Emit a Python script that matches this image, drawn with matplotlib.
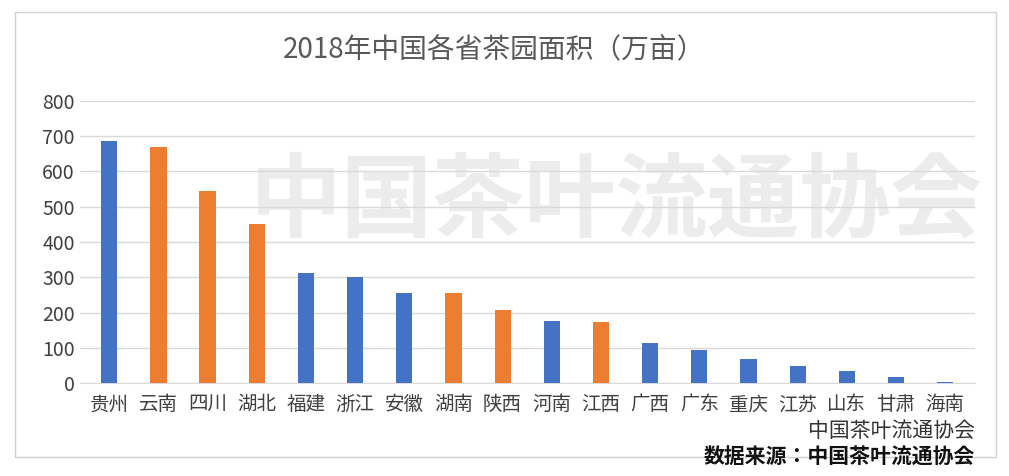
import matplotlib
matplotlib.use("Agg")
import matplotlib.pyplot as plt
from matplotlib import font_manager
from matplotlib.patches import Rectangle

cjk = [f.name for f in font_manager.fontManager.ttflist if "CJK" in f.name]
plt.rcParams["font.family"] = "sans-serif"
plt.rcParams["font.sans-serif"] = ["Noto Sans CJK SC"] + sorted(set(cjk)) + ["DejaVu Sans"]

provinces = ["贵州", "云南", "四川", "湖北", "福建", "浙江", "安徽", "湖南", "陕西",
             "河南", "江西", "广西", "广东", "重庆", "江苏", "山东", "甘肃", "海南"]
areas = [685, 668, 545, 450, 312, 300, 257, 257, 207,
         175, 172, 115, 93, 68, 50, 35, 18, 3]
highlight = ["云南", "四川", "湖北", "湖南", "陕西", "江西"]

fig = plt.figure(figsize=(10.09, 4.76), dpi=100)
fig.patches.append(Rectangle((0.015, 0.04), 0.972, 0.935, transform=fig.transFigure,
                             fill=False, edgecolor="#d0d0d0", linewidth=1))
ax = fig.add_axes([0.079, 0.195, 0.887, 0.593])
colors = ["#ED7D31" if p in highlight else "#4472C4" for p in provinces]
ax.bar(provinces, areas, width=0.33, color=colors, zorder=3)
ax.set_ylim(0, 800)
ax.set_yticks(range(0, 801, 100))
ax.set_xlim(-0.6, len(provinces) - 0.4)
ax.grid(axis="y", color="#d9d9d9", linewidth=1, zorder=0)
for s in ["top", "right", "left"]:
    ax.spines[s].set_visible(False)
ax.spines["bottom"].set_color("#d9d9d9")
ax.tick_params(axis="both", length=0, labelsize=14, colors="#404040")
ax.tick_params(axis="x", pad=8)

ax.text(0.6, 0.64, "中国茶叶流通协会", transform=ax.transAxes, ha="center", va="center",
        fontsize=66, color="#ececec", fontweight="bold", zorder=1)
fig.text(0.49, 0.895, "2018年中国各省茶园面积（万亩）", ha="center", va="center",
         fontsize=20, color="#595959")
fig.text(0.966, 0.095, "中国茶叶流通协会", ha="right", va="center", fontsize=15, color="#333333")
fig.text(0.966, 0.04, "数据来源：中国茶叶流通协会", ha="right", va="center", fontsize=15,
         color="#111111", fontweight="bold")
fig.savefig("out.png", dpi=100)
